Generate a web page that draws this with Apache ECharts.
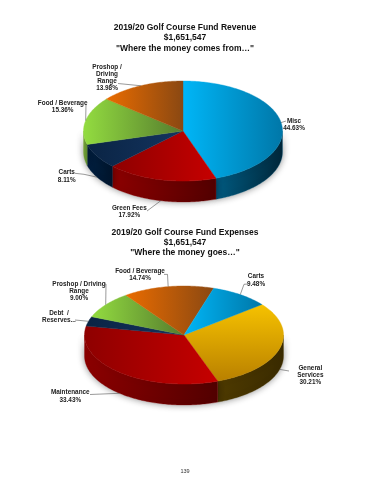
<!DOCTYPE html>
<html><head><meta charset="utf-8">
<style>html,body{margin:0;padding:0;background:#fff}#c{width:370px;height:480px;filter:blur(0.35px)}</style>
<script src="https://cdn.jsdelivr.net/npm/echarts@6/dist/echarts.min.js"></script>
</head><body><div id="c"></div>
<script>
// ---- data ----
var revenueNames  = ['Misc','Green Fees','Carts','Food / Beverage','Proshop / Driving Range'];
var revenueValues = [44.63,17.92,8.11,15.36,13.98];
var revenueLabels = [['Misc','44.63%'],['Green Fees','17.92%'],['Carts','8.11%'],['Food / Beverage','15.36%'],['Proshop /','Driving','Range','13.98%']];

var expenseNames  = ['General Services','Maintenance','Debt / Reserves','Proshop / Driving Range','Food / Beverage','Carts'];
var expenseValues = [30.21,33.43,3.14,9.00,14.74,9.48];
var expenseLabels = [['General','Services','30.21%'],['Maintenance','33.43%'],['Debt  /','Reserves...'],['Proshop / Driving','Range','9.00%'],['Food / Beverage','14.74%'],['Carts','9.48%']];

var titleRevenue = ['2019/20 Golf Course Fund Revenue','$1,651,547','"Where the money comes from\u2026"'];
var titleExpense = ['2019/20 Golf Course Fund Expenses','$1,651,547','"Where the money goes\u2026"'];
var pageNumber = '139';

// ---- styling ----
var blue=[['#00b6f7','#0077a8'],['#005a80','#00273a']];
var red=[['#8e0000','#c60000'],['#8c0000','#520000']];
var navy=[['#0a2444','#14345f'],['#001f40','#00152c']];
var green=[['#93dc40','#557c2e'],['#7aa83a','#5c8a30']];
var orange=[['#ea6c00','#8a4812'],['#8a4812','#8a4812']];
var gold=[['#f6c200','#b98000'],['#4e3a00','#3a2b00']];
var revenueColors=[blue,red,navy,green,orange];
var expenseColors=[gold,red,navy,green,orange,blue];

var F='"Liberation Sans", Arial, sans-serif';
var revGeom={cx:183,cy:131,rx:99.5,ry:50,depth:21,start:0,
  labelX:[294,129.3,66.7,62.7,107],
  labelY:[121.3,208.3,172.7,103.3,67.3],
  elbows:[[[286,121]],[[147,211]],[[84,174.3],[75,173.3]],[[86,104]],[[118,83.5]]]};
var expGeom={cx:184,cy:335,rx:99.5,ry:49,depth:21,start:51.5,
  labelX:[310.3,70.3,59,79,140,256],
  labelY:[368,392.7,313.3,284,271.3,276.7],
  elbows:[[[289,371]],[[90,394.5]],[[75,320]],[[106,284],[104.5,284]],[[167.5,274.4],[164,274.4]],[[244,284.3],[248,284]]]};

function rad(d){return d*Math.PI/180;}
function pt(g,a,dy){return [g.cx+g.rx*Math.sin(rad(a)),g.cy-g.ry*Math.cos(rad(a))+(dy||0)];}
function spans(vals,g){
  var tot=vals.reduce(function(s,v){return s+v;},0),a=g.start;
  return vals.map(function(v){var b=a+v/tot*360,r=[a,b];a=b;return r;});
}
function grad(c,vertical){
  return new echarts.graphic.LinearGradient(0,0,vertical?0:1,vertical?1:0,[{offset:0,color:c[0]},{offset:1,color:c[1]}]);
}
function pieSeries(vals,labels,colors,g){
  var sp=spans(vals,g);
  var seriesData=vals.map(function(v){return [v];});
  function side(params,api){
    var s=sp[params.dataIndex],c=colors[params.dataIndex][1],kids=[];
    [[90,270],[450,630]].forEach(function(w){
      var a=Math.max(s[0],w[0]),b=Math.min(s[1],w[1]);
      if(b<=a)return;
      var pts=[],t;
      for(t=a;t<b;t+=1)pts.push(pt(g,t));
      pts.push(pt(g,b));
      for(t=b;t>a;t-=1)pts.push(pt(g,t,g.depth));
      pts.push(pt(g,a,g.depth));
      kids.push({type:'polygon',shape:{points:pts},style:{fill:grad(c),stroke:c[0],lineWidth:0.3,shadowBlur:7,shadowColor:'rgba(0,0,0,0.45)'}});
    });
    return {type:'group',children:kids};
  }
  function top(params,api){
    var i=params.dataIndex,s=sp[i],c=colors[i][0],pts=[[g.cx,g.cy]],t;
    for(t=s[0];t<s[1];t+=1)pts.push(pt(g,t));
    pts.push(pt(g,s[1]));
    var vert=(c===gold[0]);
    var f=grad(c,vert);
    return {type:'polygon',shape:{points:pts},style:{fill:f,stroke:f,lineWidth:0.4}};
  }
  function lab(params,api){
    var i=params.dataIndex,s=sp[i],m=((s[0]+s[1])/2)%360;
    var front=(m>=90&&m<=270);
    var p=[pt(g,m,front?g.depth:0)].concat(g.elbows[i]);
    var kids=[{type:'polyline',shape:{points:p},style:{fill:null,stroke:'#555',lineWidth:0.6}}];
    labels[i].forEach(function(l,j){
      kids.push({type:'text',style:{text:l,x:g.labelX[i],y:g.labelY[i]+j*7.1,align:'center',verticalAlign:'middle',
        font:'bold 6.4px '+F,fill:'#222'}});
    });
    return {type:'group',children:kids};
  }
  function s(fn,z){return {type:'custom',coordinateSystem:'none',renderItem:fn,data:seriesData,silent:true,animation:false,z:z,clip:false};}
  return [s(side,2),s(top,3),s(lab,4)];
}
function titleText(lines,y){
  return lines.map(function(l,i){
    return {type:'text',x:185,y:y+i*10.4,style:{text:l,align:'center',verticalAlign:'middle',font:'bold 8.5px '+F,fill:'#111'}};
  });
}
var chart=echarts.init(document.getElementById('c'),null,{renderer:'canvas'});
chart.setOption({
  backgroundColor:'#fff',animation:false,
  graphic:titleText(titleRevenue,27.7).concat(titleText(titleExpense,232.3)).concat([
    {type:'text',x:185,y:471.7,style:{text:pageNumber,align:'center',verticalAlign:'middle',font:'5.5px '+F,fill:'#333'}}
  ]),
  series:pieSeries(revenueValues,revenueLabels,revenueColors,revGeom)
    .concat(pieSeries(expenseValues,expenseLabels,expenseColors,expGeom))
});
</script></body></html>
